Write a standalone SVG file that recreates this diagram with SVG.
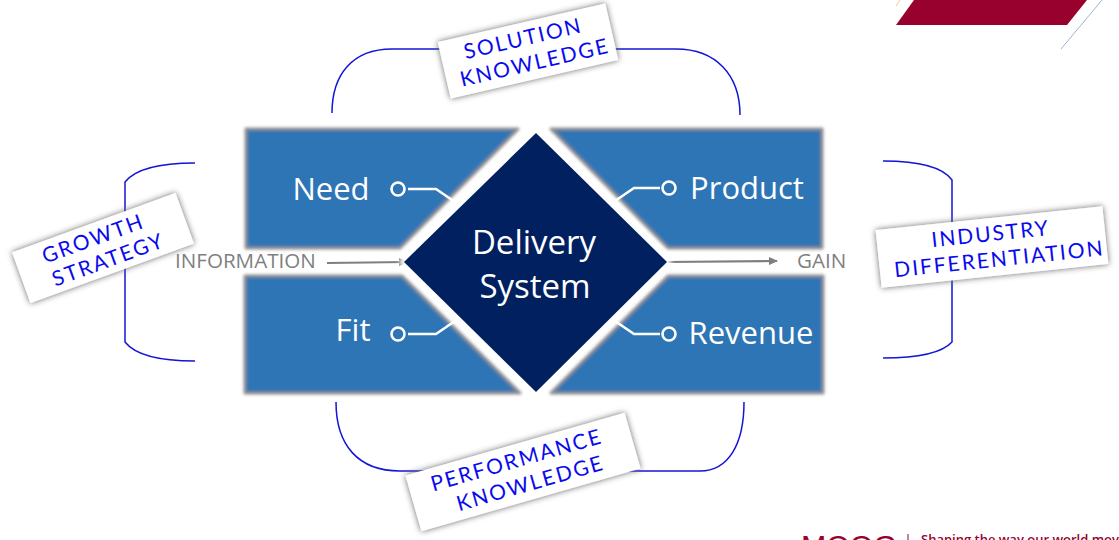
<svg xmlns="http://www.w3.org/2000/svg" width="1119" height="540" viewBox="0 0 1119 540">
<defs>
<filter id="edge" x="-10%" y="-10%" width="120%" height="120%"><feGaussianBlur stdDeviation="1.7"/></filter>
<filter id="halo" x="-10%" y="-10%" width="120%" height="120%"><feGaussianBlur stdDeviation="2"/></filter>
<filter id="card" x="-15%" y="-25%" width="130%" height="150%"><feDropShadow dx="0" dy="0" stdDeviation="3" flood-color="#666" flood-opacity="1"/></filter>
<marker id="arr" markerWidth="9" markerHeight="8" refX="8" refY="4" orient="auto" markerUnits="userSpaceOnUse"><path d="M0 0L9 4L0 8Z" fill="#7f7f7f"/></marker>
</defs>
<style>
.panel{fill:#2e75b6;stroke:#8f8f8f;stroke-width:3;stroke-linejoin:round}
.lead{fill:none;stroke:#fff;stroke-width:2.6}
.dot{fill:#2e75b6;stroke:#fff;stroke-width:2.6}
.lab{font:31px "Open Sans","Liberation Sans",sans-serif;fill:#fff;text-anchor:middle}
.big{font-size:33px}
.side{font:20.6px "Open Sans","Liberation Sans",sans-serif;fill:#7f7f7f}
.brace{fill:none;stroke:#1414d8;stroke-width:1.5}
.cardbox{fill:#fff;filter:url(#card)}
.hand{font:400 21px "Lato","Liberation Sans",sans-serif;fill:#0a0aee;text-anchor:middle;letter-spacing:2px}
.flow{fill:none;stroke:#7f7f7f;stroke-width:2.2;marker-end:url(#arr)}
</style>
<rect width="1119" height="540" fill="#fff"/>
<g id="corner">
<polygon points="914,0 1087,0 1067,25 896,25" fill="#98002e"/>
<line x1="1061" y1="49" x2="1102" y2="0" stroke="#9db5d3" stroke-width="1"/>
<line x1="896" y1="6" x2="900" y2="0" stroke="#f0c98a" stroke-width="1"/>
</g>
<g id="connectors">
<path class="brace" d="M332 113C332 75 352 49 392 49H676C716 49 740 75 740 115"/>
<path class="brace" d="M336 402C336 445 358 471 400 471H700C728 471 744 445 744 402"/>
<path class="brace" d="M195 163C160 163 136 168 125 182V342C136 356 160 361 195 361"/>
<path class="brace" d="M883 161C918 161 942 166 952 180V342C942 353 918 358 883 358"/>
<path class="flow" d="M327 263L407 262"/>
<path class="flow" d="M667 262L777 261"/>
</g>
<g id="panel-need">
<polygon class="panel" points="246,129 518,129 400,248 246,248" filter="url(#edge)"/>
<text class="lab" x="331" y="200">Need</text>
<path class="lead" d="M408 189H436L455 202"/><circle class="dot" cx="398" cy="189" r="6.5"/>
</g>
<g id="panel-product">
<polygon class="panel" points="551,129 822,129 822,248 668,248" filter="url(#edge)"/>
<text class="lab" x="747" y="199">Product</text>
<path class="lead" d="M660 188H634L615 201"/><circle class="dot" cx="669" cy="188" r="6.5"/>
</g>
<g id="panel-fit">
<polygon class="panel" points="245,276 402,276 520,393 245,393" filter="url(#edge)"/>
<text class="lab" x="353" y="341">Fit</text>
<path class="lead" d="M408 334H436L455 321"/><circle class="dot" cx="398" cy="334" r="6.5"/>
</g>
<g id="panel-revenue">
<polygon class="panel" points="668,276 823,276 823,393 551,393" filter="url(#edge)"/>
<text class="lab" x="751" y="344">Revenue</text>
<path class="lead" d="M660 334H634L615 321"/><circle class="dot" cx="669" cy="334" r="6.5"/>
</g>
<g id="delivery-system">
<polygon points="536,129 671,262 536,396 400,262" fill="#fff" stroke="#fff" stroke-width="2" filter="url(#halo)"/>
<polygon points="536,133 667,262 536,392 404,262" fill="#002060"/>
<text class="lab big" x="534" y="254">Delivery</text>
<text class="lab big" x="535" y="298">System</text>
</g>
<g id="information"><text class="side" x="175" y="268">INFORMATION</text></g>
<g id="gain"><text class="side" x="797" y="268">GAIN</text></g>
<g id="solution-knowledge" transform="rotate(-13 528 51)">
<rect class="cardbox" x="442" y="22" width="172" height="58"/>
<text class="hand" x="526" y="45">SOLUTION</text>
<text class="hand" x="532" y="71">KNOWLEDGE</text>
</g>
<g id="growth-strategy" transform="rotate(-20 103 248)">
<rect class="cardbox" x="16" y="221" width="174" height="54"/>
<text class="hand" x="97" y="243">GROWTH</text>
<text class="hand" x="104" y="268">STRATEGY</text>
</g>
<g id="industry-differentiation" transform="rotate(-6 992 247)">
<rect class="cardbox" x="878" y="218" width="228" height="58"/>
<text class="hand" x="992" y="241">INDUSTRY</text>
<text class="hand" x="998" y="267">DIFFERENTIATION</text>
</g>
<g id="performance-knowledge" transform="rotate(-16 523 472)">
<rect class="cardbox" x="409" y="443" width="228" height="58"/>
<text class="hand" x="520" y="466">PERFORMANCE</text>
<text class="hand" x="527" y="492">KNOWLEDGE</text>
</g>
<g id="logo">
<text x="801" y="556" font-family="'Liberation Sans',sans-serif" font-size="30" fill="#98002e" textLength="96" lengthAdjust="spacingAndGlyphs">MOOG</text>
<line x1="908" y1="534" x2="908" y2="540" stroke="#98002e"/>
<text x="921" y="544" font-family="'Open Sans','Liberation Sans',sans-serif" font-size="13" font-weight="600" fill="#98002e">Shaping the way our world moves</text>
</g>
</svg>
